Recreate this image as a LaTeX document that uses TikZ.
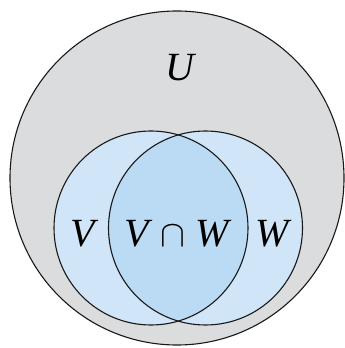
\documentclass[tikz,border=0pt]{standalone}
\usepackage{graphicx}
\usepackage{fontspec}
\setmainfont{Liberation Serif}
\begin{document}
\begin{tikzpicture}[x=1pt,y=1pt,
  setline/.style={draw=black!90, line width=1.1pt},
  lbl/.style={font=\fontsize{40}{44}\selectfont\itshape, inner sep=0pt}]
\definecolor{ugray}{RGB}{219,220,222}
\definecolor{setblue}{RGB}{208,229,247}
\definecolor{capblue}{RGB}{186,219,243}
\useasboundingbox (0,0) rectangle (345,348);
\coordinate (cu) at (177,170);
\coordinate (cv) at (151,120);
\coordinate (cw) at (205.5,120);
\fill[ugray] (cu) circle (167);
\fill[setblue] (cv) circle (97);
\fill[setblue] (cw) circle (97);
\begin{scope}
  \clip (cv) circle (97);
  \fill[capblue] (cw) circle (97);
\end{scope}
\draw[setline] (cu) circle (167);
\draw[setline] (cv) circle (97);
\draw[setline] (cw) circle (97);
\node[lbl] (u) at (180,280) {U};
\node[lbl] (v) at (83,114) {V};
\node[lbl] (vw) at (177,114) {V\hspace{11pt}\scalebox{1.5}{$\cap$}\hspace{11pt}W};
\node[lbl] (w) at (272,114) {W};
\end{tikzpicture}
\end{document}
